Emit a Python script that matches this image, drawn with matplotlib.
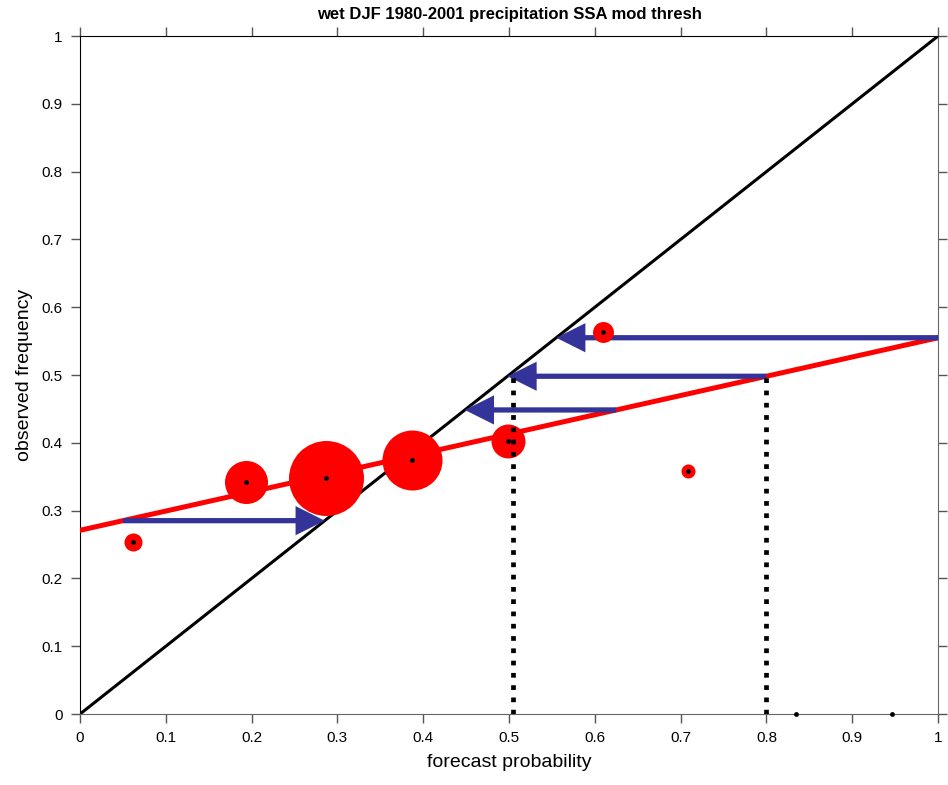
import matplotlib
matplotlib.use("Agg")
import matplotlib.pyplot as plt
import numpy as np

plt.rcParams['font.family'] = ['Liberation Sans', 'DejaVu Sans']

# reliability diagram data
fcst_prob = [0.062, 0.194, 0.287, 0.387, 0.499, 0.610, 0.709, 0.835, 0.946]
obs_freq = [0.254, 0.342, 0.348, 0.375, 0.403, 0.563, 0.358, 0.0, 0.0]
bin_frac = [0.058, 0.329, 1.0, 0.64, 0.205, 0.078, 0.035, 0.0, 0.0]

# fitted reliability line
fit_intercept = 0.271
fit_slope = 0.284

arrow_from = [0.05, 0.625, 0.8, 1.0]
thresh_x = [0.505, 0.8]

red = '#ff0000'
blue = '#333399'

fig = plt.figure(figsize=(9.48, 7.85), dpi=100)
ax = fig.add_axes([0.0844, 0.0904, 0.9051, 0.8637])

ax.plot([0, 1], [0, 1], color='black', lw=2.2, zorder=2)

xx = np.array([0.0, 1.0])
ax.plot(xx, fit_intercept + fit_slope * xx, color=red, lw=3.6, zorder=3)

for p in arrow_from:
    y = fit_intercept + fit_slope * p
    ax.annotate('', xy=(y, y), xytext=(p, y),
                arrowprops=dict(arrowstyle='simple,head_length=1,head_width=1,tail_width=0.18',
                                mutation_scale=21, color=blue, lw=0,
                                shrinkA=0, shrinkB=0),
                zorder=4)

for x, y, f in zip(fcst_prob, obs_freq, bin_frac):
    if f > 0:
        ax.plot(x, y, 'o', color=red, markersize=54 * np.sqrt(f),
                markeredgewidth=0, zorder=5)

top = fit_intercept + fit_slope * thresh_x[1]
for x in thresh_x:
    ax.plot([x, x], [0, top], color='black', lw=3.4,
            linestyle=(0, (1, 1.6)), zorder=6)

ax.plot(fcst_prob, obs_freq, 'o', color='black', markersize=3.5,
        markeredgewidth=0, zorder=7, clip_on=False)

ax.set_xlim(0, 1)
ax.set_ylim(0, 1)
ticks = np.round(np.arange(0, 1.01, 0.1), 1)
labels = ['0'] + ['%g' % t for t in ticks[1:-1]] + ['1']
ax.set_xticks(ticks)
ax.set_xticklabels(labels)
ax.set_yticks(ticks)
ax.set_yticklabels(labels)
ax.tick_params(direction='out', length=6.5, width=1, color='#555555',
               labelsize=11, top=True, right=True, pad=6)
for s in ['left', 'top']:
    ax.spines[s].set_color('black')
for s in ['bottom', 'right']:
    ax.spines[s].set_color('#666666')

ax.set_xlabel('forecast probability', fontsize=14, labelpad=6)
ax.set_ylabel('observed frequency', fontsize=14, labelpad=6)
ax.set_title('wet DJF 1980-2001 precipitation SSA mod thresh',
             fontsize=12, fontweight='bold',
             family=['Liberation Sans Narrow', 'Liberation Sans'], pad=12)

fig.savefig('out.png', dpi=100)
